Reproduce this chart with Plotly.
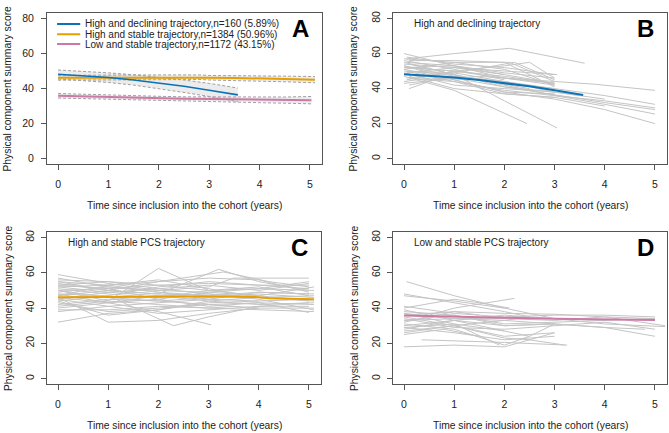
import plotly.graph_objects as go

W, H = 669, 433

# ---------------- data ----------------
x_ticks = [0, 1, 2, 3, 4, 5]
y_ticks = [0, 20, 40, 60, 80]

legend_labels = [
    "High and declining trajectory,n=160 (5.89%)",
    "High and stable trajectory,n=1384 (50.96%)",
    "Low and stable trajectory,n=1172 (43.15%)",
]
col_blue, col_orange, col_pink = "#0A72B5", "#E69F00", "#CC79A7"

# Panel A mean trajectories and CIs
blue_x = [0, 0.5, 1, 1.5, 2, 2.5, 3, 3.57]
blue_y = [48.2, 47.4, 46.3, 44.9, 43.2, 41.3, 39.1, 36.4]
blue_lo = [45.5, 44.6, 43.5, 42.0, 40.0, 37.8, 35.5, 32.5]
blue_hi = [50.6, 49.9, 49.0, 47.9, 46.5, 44.9, 43.0, 40.3]

orange_x = [0, 0.5, 1, 1.5, 2, 2.5, 2.8, 3, 3.5, 4, 4.5, 5.1]
orange_y = [46.2, 46.2, 46.4, 46.5, 46.6, 46.6, 46.5, 46.2, 46.1, 45.8, 45.5, 45.1]
orange_lo = [44.8, 44.9, 45.1, 45.2, 45.3, 45.3, 45.2, 44.9, 44.7, 44.3, 43.9, 43.3]
orange_hi = [47.6, 47.5, 47.7, 47.8, 47.9, 47.9, 47.8, 47.5, 47.5, 47.3, 47.1, 46.9]

pink_x = [0, 0.5, 1, 1.5, 2, 2.5, 3, 3.5, 4, 4.5, 5.03]
pink_y = [35.9, 35.5, 35.1, 34.8, 34.5, 34.2, 34.0, 33.8, 33.7, 33.5, 33.4]
pink_lo = [34.6, 34.3, 34.0, 33.7, 33.4, 33.1, 32.8, 32.6, 32.3, 31.8, 31.3]
pink_hi = [37.2, 36.7, 36.2, 35.9, 35.6, 35.3, 35.2, 35.1, 35.1, 35.2, 35.5]

# Panel B individual trajectories (high and declining)
B_lines = [
    ([0.05, 1, 2.1, 3.6], [57, 60, 63, 54.5]),
    ([0.1, 1.0, 2, 3.1, 3.8, 5], [52, 50, 46, 44, 42.5, 39]),
    ([0, 1, 2, 3, 4, 5], [55, 48, 42, 36, 33, 29]),
    ([0.05, 1, 2, 3, 4, 5], [50, 44, 39, 36, 31, 25.5]),
    ([0, 1, 2, 3, 4, 5], [53, 45, 38, 34, 28, 20]),
    ([0, 1, 2.45], [47, 39, 20]),
    ([0.1, 1, 2, 3.05], [54, 48, 33, 17.5]),
    ([0, 1, 2, 3], [60, 53, 48, 43]),
    ([0.1, 1, 2, 3], [56, 56, 55, 41]),
    ([0, 1, 2.1, 3], [51, 55, 55, 44]),
    ([0.05, 1, 2, 2.5, 3], [45, 50, 53, 55, 46]),
    ([0.1, 0.6, 1.5, 2, 3], [40, 45, 47, 46, 42]),
    ([0, 1, 2, 3], [43, 46, 41, 38]),
    ([0, 1, 2, 3, 4], [49, 42, 40, 38, 34]),
    ([0.05, 1, 2, 3], [58, 54, 52, 48]),
    ([0, 1, 2, 3.05], [54, 52, 50, 48]),
    ([0.1, 1, 2, 3], [46, 44, 37, 35]),
    ([0, 1, 2, 3, 3.5], [48, 47, 44, 38, 36]),
    ([0.05, 1, 2, 3], [52, 50, 47, 43]),
    ([0, 1, 2], [56, 51, 45]),
    ([0.1, 1, 2, 2.2, 3], [50, 49, 54, 55, 45]),
    ([0, 0.5, 1.5, 2.5], [44, 46, 45, 40]),
    ([0, 1, 2, 3, 4, 5], [53, 47, 44, 40, 36, 31]),
    ([0.05, 1, 2, 3], [55, 53, 49, 46]),
    ([0.1, 1, 2, 3], [42, 47, 43, 40]),
    ([0, 1, 2, 3], [51, 45, 38, 37]),
    ([0.05, 1, 2], [49, 52, 48]),
    ([0, 1, 2, 3], [57, 55, 51, 42]),
    ([0.1, 1, 2, 3, 4], [47, 40, 37, 35, 30]),
    ([0, 1, 2, 3, 4, 5], [50, 48, 41, 36.5, 32, 28]),
    ([0, 1, 2, 3], [52, 53, 46, 43]),
    ([0.05, 1, 2, 3], [46, 49, 44, 39]),
]

# Panel C individual trajectories (high and stable)
C_lines = [
    ([0, 1, 2, 3, 3.5, 5], [59, 54, 50, 52, 57, 57]),
    ([0, 1, 2, 3, 4, 5.1], [32, 37, 39, 44, 46, 47]),
    ([0, 1, 2, 3, 4], [46, 32, 33, 37, 40]),
    ([0, 1, 2, 3, 4, 5], [50, 44, 62.5, 50, 47, 44]),
    ([0, 1, 2.3, 3, 4, 5], [44, 47, 30, 35, 41, 41]),
    ([0, 1, 2, 3.2, 4, 5], [55, 50, 48, 62, 55, 50]),
    ([0, 1, 2, 3.05], [48, 43, 38, 30.5]),
    ([0, 1, 2, 3.3, 4.2, 5], [52, 53, 55, 60.5, 55, 52]),
    ([0, 1, 2, 3, 4, 5.1], [39, 39, 41, 40, 39, 38]),
    ([0, 1, 2, 3, 4, 5.1], [42, 45, 44, 42, 43, 42]),
    ([0, 1, 2, 3, 4, 5], [53, 51, 53, 54, 53, 53]),
    ([0, 1, 2, 3, 4, 5.1], [47, 50, 48, 47, 49, 48]),
    ([0, 1, 2, 3, 4, 5], [45, 41, 43, 45, 44, 45]),
    ([0, 1, 2, 3, 4, 5.1], [51, 48, 46, 50, 51, 50]),
    ([0, 1, 2, 3, 4, 5], [56, 55, 51, 53, 50, 54]),
    ([0, 1, 2, 3, 4, 5.1], [40, 43, 47, 48, 46, 44]),
    ([0, 1, 2, 3, 4, 5], [49, 52, 50, 49, 51, 55]),
    ([0, 1, 2, 3, 4, 5.1], [43, 38, 40, 42, 40, 40]),
    ([0, 1, 2, 3, 4, 5], [54, 50, 55, 57, 56, 49]),
    ([0, 1, 2, 3, 4, 5], [38, 41, 37, 39, 41, 43]),
    ([0, 1, 2, 3, 4, 5.1], [50, 46, 44, 46, 48, 46]),
    ([0, 1, 2, 3, 4, 5], [47, 53, 56, 51, 46, 45]),
    ([0, 1, 2, 3, 4], [44, 36, 39, 43, 44]),
    ([0, 1, 2, 3, 4, 5.1], [52, 49, 51, 48, 45, 39]),
    ([0, 1, 2, 3, 3.5], [41, 44, 42, 40, 41]),
    ([0, 1, 2, 3], [57, 52, 49, 47]),
    ([0, 1, 2, 3, 4, 5], [48, 47, 52, 55, 53, 51]),
    ([0, 1, 2, 3, 4, 5.1], [45, 49, 47, 44, 42, 43]),
    ([0, 1, 2, 3, 4, 5], [53, 55, 53, 50, 52, 47]),
    ([0, 1, 2, 3, 4, 5], [50, 51, 45, 41, 43, 37.5]),
    ([0, 1, 2, 3, 4, 5.1], [46, 43, 45, 49, 47, 52]),
    ([0, 1, 2, 3, 4, 5], [55, 53, 49, 45, 49, 48]),
]
orange_c_x = [0, 0.5, 1, 2, 3, 4, 4.2, 5.1]
orange_c_y = [46.1, 46.2, 46.3, 46.6, 46.6, 46.2, 45.6, 45.0]

# Panel D individual trajectories (low and stable)
D_lines = [
    ([0.05, 1, 2, 3, 4, 5], [55, 47, 40, 34, 33, 34]),
    ([0, 1, 2, 2.5], [48, 43, 38, 35]),
    ([0, 1, 2], [47, 44, 40]),
    ([0.5, 1, 2.2], [36, 40, 45.5]),
    ([0, 1, 1.5, 2.1], [40, 45, 43, 40]),
    ([0.35, 1, 2, 3.25], [22, 21.5, 20.5, 19]),
    ([0, 1, 2, 3], [18, 19, 18, 26]),
    ([0, 1, 2, 3, 4, 5], [38, 36, 30, 31, 29, 24]),
    ([0, 1, 2, 3, 4, 5.2], [33, 34, 34, 33, 35, 30]),
    ([0, 1, 2, 3, 4, 5], [36, 38, 37, 36.5, 35, 34]),
    ([0, 1, 2, 3, 4, 4.8], [30, 33, 30, 31, 29, 28]),
    ([0, 1, 2, 3], [27, 30, 24, 26]),
    ([0, 1, 2, 2.5], [39, 33, 27, 24]),
    ([0, 1, 2, 2.5, 3], [31, 28, 19, 24, 31]),
    ([0, 1, 2, 2.5, 3.2], [35, 30, 23, 22, 19]),
    ([0, 1, 2, 2.5], [26, 30, 33, 35]),
    ([0, 1, 1.9], [37, 31, 19]),
    ([0, 1, 2, 3, 4], [33, 36, 31, 32, 33]),
    ([0, 1, 2, 3], [29, 26, 22, 24]),
    ([0, 1, 2, 3, 4, 5], [41, 37, 35, 36, 36, 35]),
    ([0, 1, 2, 3, 4, 5], [34, 29, 28, 30, 32, 28]),
    ([0, 1, 2, 3, 4, 5.2], [28, 33, 36, 34, 31, 29.5]),
    ([0, 1, 1.5], [32, 38, 36]),
    ([0, 0.8, 1.5], [25, 28, 24]),
    ([0, 1, 2, 3], [37, 34, 33, 31]),
    ([0, 1, 2], [29, 31, 27]),
]
pink_d_x = [0, 1, 2, 3, 3.5, 4, 5]
pink_d_y = [35.8, 35.0, 34.5, 34.0, 33.8, 33.5, 33.2]

# ---------------- layout helpers ----------------
def px_x(p):
    return p / W

def px_y(p):
    return 1 - p / H

panels = {
    # name: (left, right, top, bottom) in pixels
    "1": (47, 322, 11, 163),
    "2": (393, 667, 11, 163),
    "3": (47, 321, 231, 384),
    "4": (393, 667, 231, 384),
}

FONT = "Arial, Liberation Sans, sans-serif"
TXT = "#222222"
GRAY = "#C4C4C4"
BOX = "#555555"

fig = go.Figure()

def add_line(ax, xs, ys, color, width, dash=None, **kw):
    fig.add_trace(go.Scatter(
        x=xs, y=ys, mode="lines", xaxis="x" + ("" if ax == "1" else ax),
        yaxis="y" + ("" if ax == "1" else ax),
        line=dict(color=color, width=width, dash=dash), showlegend=False,
        hoverinfo="skip", **kw))

# Panel A: CI bands
for xs, lo, hi in [(blue_x, blue_lo, blue_hi), (orange_x, orange_lo, orange_hi),
                   (pink_x, pink_lo, pink_hi)]:
    fig.add_trace(go.Scatter(x=xs + xs[::-1], y=hi + lo[::-1], mode="none",
                             fill="toself", fillcolor="rgba(200,200,200,0.35)",
                             showlegend=False, hoverinfo="skip",
                             xaxis="x", yaxis="y"))
for xs, lo, hi in [(orange_x, orange_lo, orange_hi), (pink_x, pink_lo, pink_hi),
                   (blue_x, blue_lo, blue_hi)]:
    add_line("1", xs, lo, "#A0A0A0", 1, dash="3px,2px")
    add_line("1", xs, hi, "#A0A0A0", 1, dash="3px,2px")
add_line("1", orange_x, orange_y, col_orange, 2)
add_line("1", pink_x, pink_y, col_pink, 2)
add_line("1", blue_x, blue_y, col_blue, 1.6)

# Panel B
for xs, ys in B_lines:
    add_line("2", xs, ys, GRAY, 1)
add_line("2", blue_x, blue_y, col_blue, 2)
# Panel C
for xs, ys in C_lines:
    add_line("3", xs, ys, GRAY, 1)
add_line("3", orange_c_x, orange_c_y, col_orange, 2)
# Panel D
for xs, ys in D_lines:
    add_line("4", xs, ys, GRAY, 1)
add_line("4", pink_d_x, pink_d_y, col_pink, 2)

layout = dict(
    width=W, height=H, margin=dict(l=0, r=0, t=0, b=0),
    paper_bgcolor="white", plot_bgcolor="white",
    font=dict(family=FONT, size=10, color=TXT),
    showlegend=False,
)
annotations = []
shapes = []
xr = [-0.22, 5.24]
yr = [-3.2, 83.2]
for k, (l, r, t, b) in panels.items():
    xa = "xaxis" + ("" if k == "1" else k)
    ya = "yaxis" + ("" if k == "1" else k)
    xid = "x" + ("" if k == "1" else k)
    yid = "y" + ("" if k == "1" else k)
    layout[xa] = dict(domain=[px_x(l), px_x(r)], range=xr, anchor=yid,
                      tickvals=x_ticks, ticks="outside", ticklen=5, tickcolor=BOX,
                      showline=True, linecolor=BOX, linewidth=1, mirror=True,
                      showgrid=False, zeroline=False, ticklabelstandoff=5,
                      tickfont=dict(size=10.5, color=TXT))
    layout[ya] = dict(domain=[px_y(b), px_y(t)], range=yr, anchor=xid,
                      tickvals=y_ticks, ticks="outside", ticklen=5, tickcolor=BOX,
                      showline=True, linecolor=BOX, linewidth=1, mirror=True,
                      showgrid=False, zeroline=False,
                      tickangle=0 if k == "1" else -90,
                      ticklabelstandoff=5 if k == "1" else 3,
                      tickfont=dict(size=10.5, color=TXT))
    # axis titles
    annotations.append(dict(text="Physical component summary score", xref="paper",
                            yref="paper", x=px_x(l - 39), y=px_y((t + b) / 2),
                            textangle=-90, showarrow=False, xanchor="center",
                            yanchor="middle", font=dict(size=10.3, color=TXT)))
    annotations.append(dict(text="Time since inclusion into the cohort (years)",
                            xref="paper", yref="paper", x=px_x((l + r) / 2),
                            y=px_y(b + 41), showarrow=False, xanchor="center",
                            yanchor="middle", font=dict(size=10.3, color=TXT)))
    # panel letter
    annotations.append(dict(text="<b>" + "ABCD"[int(k) - 1] + "</b>", xref="paper",
                            yref="paper", x=px_x(r - 22), y=px_y(t + 16),
                            showarrow=False, xanchor="center", yanchor="middle",
                            font=dict(size=24, color="#000000")))

subtitles = {"2": "High and declining trajectory", "3": "High and stable PCS trajectory",
             "4": "Low and stable PCS trajectory"}
sub_left = {"2": 412, "3": 66, "4": 412}
for k, s in subtitles.items():
    t = panels[k][2]
    annotations.append(dict(text=s, xref="paper", yref="paper", x=px_x(sub_left[k]),
                            y=px_y(t + 11), showarrow=False, xanchor="left",
                            yanchor="middle", font=dict(size=10, color=TXT)))

# legend for panel A (line keys in data coordinates of panel A)
leg_y = [76.9, 71.1, 65.4]
for lab, col, yy in zip(legend_labels, [col_blue, col_orange, col_pink], leg_y):
    shapes.append(dict(type="line", xref="x", yref="y", x0=-0.02, x1=0.44, y0=yy, y1=yy,
                       line=dict(color=col, width=2)))
    annotations.append(dict(text=lab, xref="x", yref="y", x=0.5, y=yy, showarrow=False,
                            xanchor="left", yanchor="middle",
                            font=dict(size=10, color=TXT)))

layout["annotations"] = annotations
layout["shapes"] = shapes
fig.update_layout(**layout)
fig.write_html("out.html")
